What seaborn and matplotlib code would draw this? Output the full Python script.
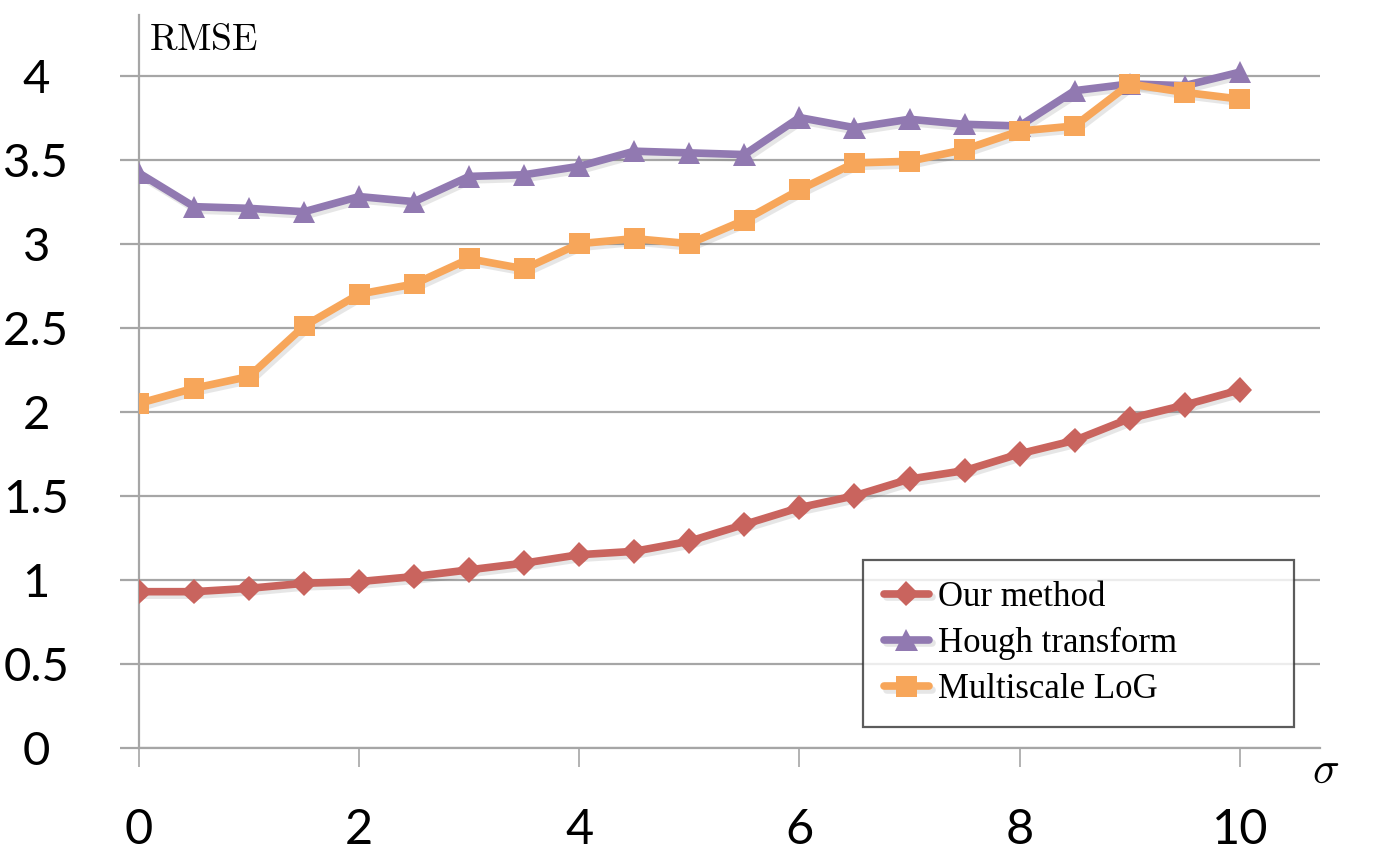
import seaborn as sns
import matplotlib.pyplot as plt
import matplotlib.patheffects as pe

# data
sigma = [0, 0.5, 1, 1.5, 2, 2.5, 3, 3.5, 4, 4.5, 5, 5.5, 6, 6.5, 7, 7.5, 8, 8.5, 9, 9.5, 10]
our_method = [0.93, 0.93, 0.95, 0.98, 0.99, 1.02, 1.06, 1.10, 1.15, 1.17, 1.23, 1.33, 1.43,
              1.50, 1.60, 1.65, 1.75, 1.83, 1.96, 2.04, 2.13]
hough = [3.42, 3.22, 3.21, 3.19, 3.28, 3.25, 3.40, 3.41, 3.46, 3.55, 3.54, 3.53, 3.75,
         3.69, 3.74, 3.71, 3.70, 3.91, 3.95, 3.94, 4.02]
multiscale_log = [2.05, 2.14, 2.21, 2.51, 2.70, 2.76, 2.91, 2.85, 3.00, 3.03, 3.00, 3.14, 3.32,
                  3.48, 3.49, 3.56, 3.67, 3.70, 3.95, 3.90, 3.86]
series_names = ["Our method", "Hough transform", "Multiscale LoG"]
y_ticks = [0, 0.5, 1, 1.5, 2, 2.5, 3, 3.5, 4]
y_tick_labels = ["0", "0.5", "1", "1.5", "2", "2.5", "3", "3.5", "4"]
x_ticks = [0, 2, 4, 6, 8, 10]

sns.set_theme(style="ticks")
plt.rcParams['font.family'] = ['Lato', 'DejaVu Sans']
plt.rcParams['mathtext.fontset'] = 'cm'

grid_col = "#A6A6A6"
colors = ["#C9645E", "#9179B1", "#F7A65A"]
markers = ["D", "^", "s"]
msizes = [13, 16, 15]

fig = plt.figure(figsize=(13.83, 8.68), dpi=100)
ax = fig.add_axes([0.1005, 0.1382, 0.854, 0.8445])

# soft drop shadow like the original chart
shadow = [pe.SimpleLineShadow(offset=(2, -2.5), alpha=0.13, shadow_color="#444444"), pe.Normal()]
for i, (vals, name) in enumerate(zip([our_method, hough, multiscale_log], series_names)):
    sns.lineplot(x=sigma, y=vals, ax=ax, color=colors[i], marker=markers[i],
                 markersize=msizes[i], markeredgewidth=0, linewidth=5.5, label=name,
                 zorder=3 + i, path_effects=shadow)

ax.set_xlim(0, 10.73)
ax.set_ylim(0, 4.36)
ax.set_yticks(y_ticks)
ax.set_yticklabels(y_tick_labels)
ax.set_xticks(x_ticks)
ax.set_xticklabels([str(t) for t in x_ticks])
ax.yaxis.grid(True, color=grid_col, linewidth=1.6)
ax.xaxis.grid(False)
for s in ["top", "right"]:
    ax.spines[s].set_visible(False)
for s in ["left", "bottom"]:
    ax.spines[s].set_color(grid_col)
    ax.spines[s].set_linewidth(1.6)
ax.tick_params(axis="y", direction="out", length=14, width=1.6, color=grid_col,
               labelsize=34, pad=60, labelcolor="black")
for lbl in ax.get_yticklabels():
    lbl.set_horizontalalignment("center")
ax.tick_params(axis="x", direction="out", length=14, width=1.2, color=grid_col,
               labelsize=35, pad=29, labelcolor="black")
ax.set_xlabel("")
ax.set_ylabel("")

ax.text(0.1075, 0.955, r"$\mathrm{RMSE}$", transform=fig.transFigure, fontsize=27,
        ha="left", va="center", color="black")
ax.text(0.9585, 0.112, r"$\sigma$", transform=fig.transFigure, fontsize=32,
        ha="center", va="center", color="black")

leg = ax.legend(loc="upper left", bbox_to_anchor=(0.624, 0.160, 0.3117, 0.1948),
                bbox_transform=fig.transFigure, mode="expand",
                prop={"family": "Liberation Serif", "size": 25}, frameon=True, fancybox=False,
                handlelength=1.3, handletextpad=0.25, labelspacing=0.38, borderpad=0.6,
                borderaxespad=0, labelcolor="black")
leg.get_frame().set_edgecolor("#333333")
leg.get_frame().set_linewidth(1.6)

fig.savefig("out.png", dpi=100)
